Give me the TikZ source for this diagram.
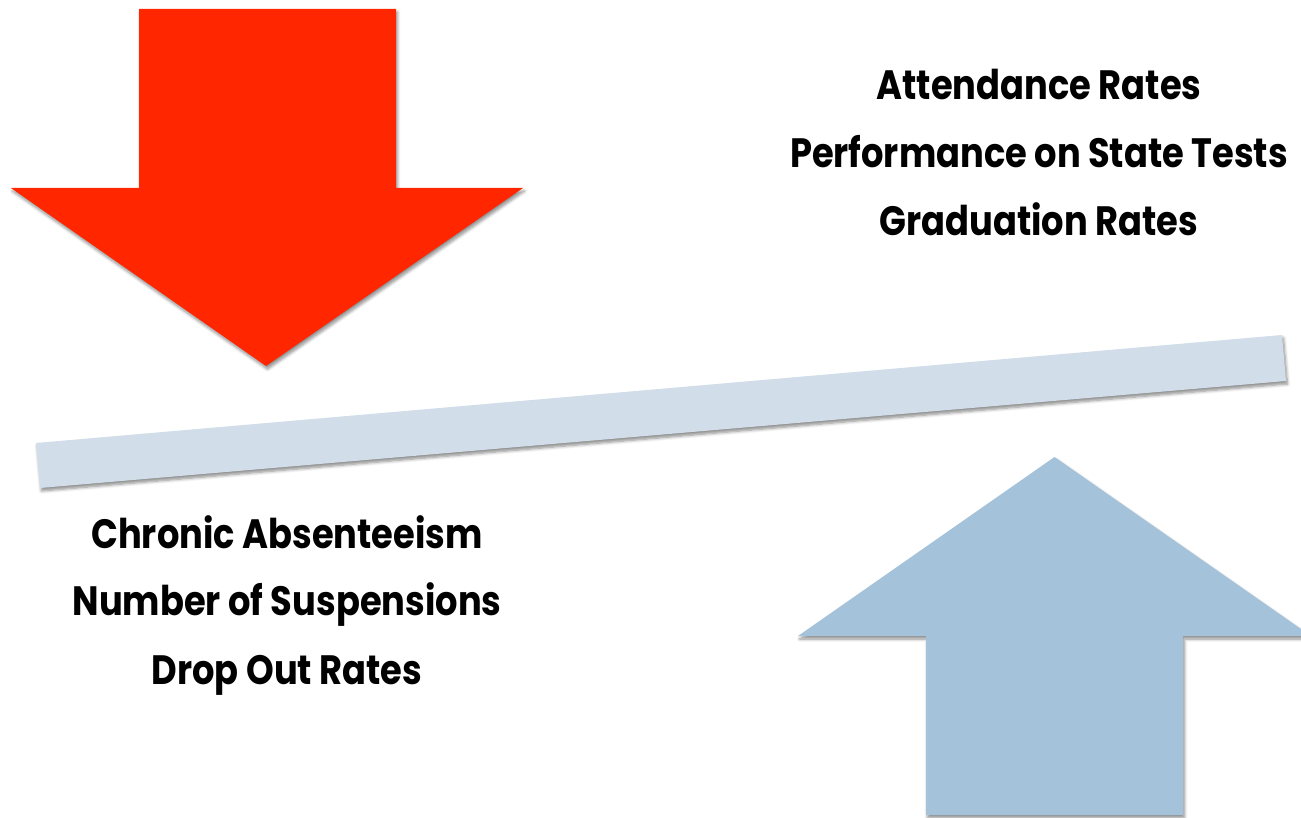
\documentclass[tikz,border=0pt]{standalone}
\usepackage{fontspec}
\setmainfont{Poppins}[FakeStretch=0.86]
\usetikzlibrary{shadows.blur}
\definecolor{arrowred}{HTML}{FF2600}
\definecolor{arrowblue}{HTML}{A4C2DA}
\definecolor{barblue}{HTML}{D1DEE9}
\tikzset{
  shapeshadow/.style={blur shadow={shadow xshift=1.5pt, shadow yshift=-3pt, shadow blur radius=3pt, shadow blur steps=6, shadow opacity=45}},
  label/.style={anchor=base, inner sep=0pt, font=\fontsize{41}{41}\selectfont\bfseries}
}
\begin{document}
\begin{tikzpicture}[x=1pt,y=-1pt]
\useasboundingbox (0,0) rectangle (1301,818);
\clip (0,0) rectangle (1301,818);
% red down arrow
\path[fill=arrowred, shapeshadow] (139,9) -- (396,9) -- (396,188) -- (523,188) -- (266,366) -- (11,188) -- (139,188) -- cycle;
% seesaw bar
\path[fill=barblue, shapeshadow] (36,443) -- (1282,335) -- (1286,381) -- (40,488) -- cycle;
% blue up arrow
\path[fill=arrowblue, shapeshadow] (1054.5,457) -- (1311,636) -- (1183,636) -- (1183,815) -- (926,815) -- (926,636) -- (798,636) -- cycle;
% texts
\node[label] (t1) at (1039,100) {Attendance Rates};
\node[label] (t2) at (1039,168) {Performance on State Tests};
\node[label] (t3) at (1039,236) {Graduation Rates};
\node[label] (b1) at (287,548) {Chronic Absenteeism};
\node[label] (b2) at (287,615) {Number of Suspensions};
\node[label] (b3) at (287,684) {Drop Out Rates};
\end{tikzpicture}
\end{document}
